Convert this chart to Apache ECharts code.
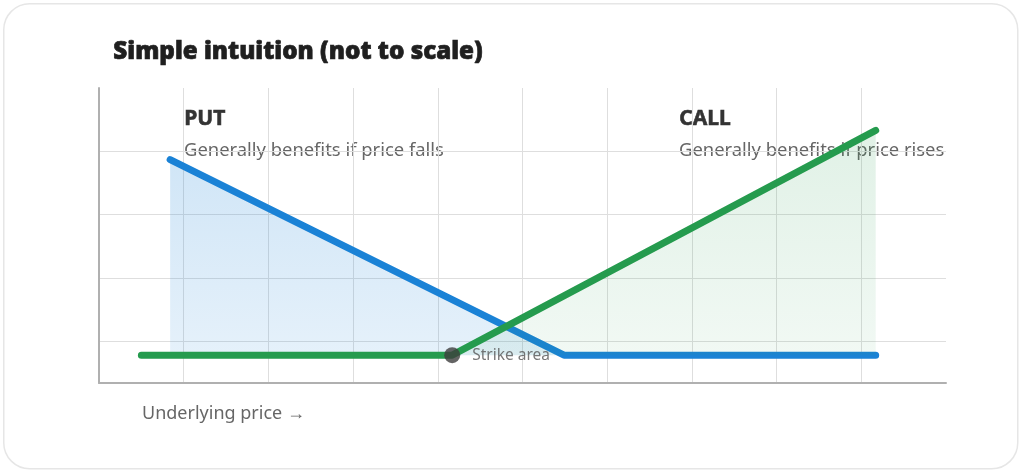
<!DOCTYPE html>
<html>
<head>
<meta charset="utf-8">
<script src="https://cdn.jsdelivr.net/npm/echarts@6/dist/echarts.min.js"></script>
<style>
html,body{margin:0;padding:0;background:#fff;}
#c{width:1025px;height:471px;}
</style>
</head>
<body>
<div id="c"></div>
<script>
// Illustrative payoff shapes (not to scale)
const putLine = [[0.84, 2.87], [5.49, -0.22], [9.17, -0.22]];
const callLine = [[0.50, -0.22], [4.17, -0.22], [9.17, 3.33]];
const strikePoint = [[4.17, -0.22]];
const baseLevel = -0.22;
const xRange = [0, 10];
const yRange = [-0.66, 4];
const titleText = 'Simple intuition (not to scale)';
const putTitle = 'PUT';
const putNote = 'Generally benefits if price falls';
const callTitle = 'CALL';
const callNote = 'Generally benefits if price rises';
const strikeLabel = 'Strike area';
const xAxisLabel = 'Underlying price \u2192';

const FONT = '"Noto Sans", "Open Sans", sans-serif';
const chart = echarts.init(document.getElementById('c'), null, {renderer: 'canvas'});

chart.setOption({
  animation: false,
  backgroundColor: '#ffffff',
  grid: {left: 99, right: 79, top: 88, bottom: 88},
  xAxis: {
    type: 'value', min: xRange[0], max: xRange[1], interval: 1,
    axisLine: {show: true, onZero: false, lineStyle: {color: '#b0b0b0', width: 2}},
    axisTick: {show: false}, axisLabel: {show: false},
    splitLine: {show: true, showMinLine: false, showMaxLine: false, lineStyle: {color: '#dedede', width: 1}}
  },
  yAxis: {
    type: 'value', min: yRange[0], max: yRange[1], splitNumber: 5,
    axisLine: {show: true, onZero: false, lineStyle: {color: '#b0b0b0', width: 2}},
    axisTick: {show: false}, axisLabel: {show: false},
    splitLine: {show: true, showMinLine: false, showMaxLine: false, lineStyle: {color: '#dedede', width: 1}}
  },
  graphic: [
    {type: 'rect', left: 3, top: 3, z: -10, silent: true,
     shape: {width: 1014, height: 465, r: 26},
     style: {fill: '#ffffff', stroke: '#e6e6e6', lineWidth: 1.5}},
    {type: 'text', left: 113, top: 40, style: {text: titleText, font: '900 24.2px ' + FONT, fill: '#1f1f1f', stroke: '#1f1f1f', lineWidth: 0.7}},
    {type: 'text', left: 184, top: 108, style: {text: putTitle, font: 'bold 21px ' + FONT, fill: '#333333', stroke: '#333333', lineWidth: 0.6}},
    {type: 'text', left: 184, top: 142, style: {text: putNote, font: '18.4px ' + FONT, fill: '#666666'}},
    {type: 'text', left: 679, top: 108, style: {text: callTitle, font: 'bold 21px ' + FONT, fill: '#333333', stroke: '#333333', lineWidth: 0.6}},
    {type: 'text', left: 679, top: 142, style: {text: callNote, font: '18.4px ' + FONT, fill: '#666666'}},
    {type: 'text', left: 142, top: 405, style: {text: xAxisLabel, font: '18px ' + FONT, fill: '#666666'}}
  ],
  series: [
    {
      name: 'Put', type: 'line', data: putLine, showSymbol: false, z: 3,
      lineStyle: {color: '#1a82d6', width: 7, cap: 'round', join: 'round'},
      itemStyle: {color: '#1a82d6'},
      areaStyle: {
        origin: baseLevel,
        color: new echarts.graphic.LinearGradient(0, 0, 0, 1, [
          {offset: 0, color: 'rgba(26,130,214,0.29)'},
          {offset: 1, color: 'rgba(26,130,214,0.16)'}
        ])
      }
    },
    {
      name: 'Call', type: 'line', data: callLine, showSymbol: false, z: 4,
      lineStyle: {color: '#259b4e', width: 7, cap: 'round', join: 'round'},
      itemStyle: {color: '#259b4e'},
      areaStyle: {
        origin: baseLevel,
        color: new echarts.graphic.LinearGradient(0, 0, 0, 1, [
          {offset: 0, color: 'rgba(37,155,78,0.2)'},
          {offset: 1, color: 'rgba(37,155,78,0.09)'}
        ])
      }
    },
    {
      name: 'Strike', type: 'scatter', data: strikePoint, symbolSize: 16, z: 5,
      itemStyle: {color: '#3d3d3d'},
      label: {show: true, position: 'right', distance: 12, formatter: strikeLabel,
              color: '#555555', fontSize: 15.5, fontFamily: FONT}
    }
  ]
});
</script>
</body>
</html>
